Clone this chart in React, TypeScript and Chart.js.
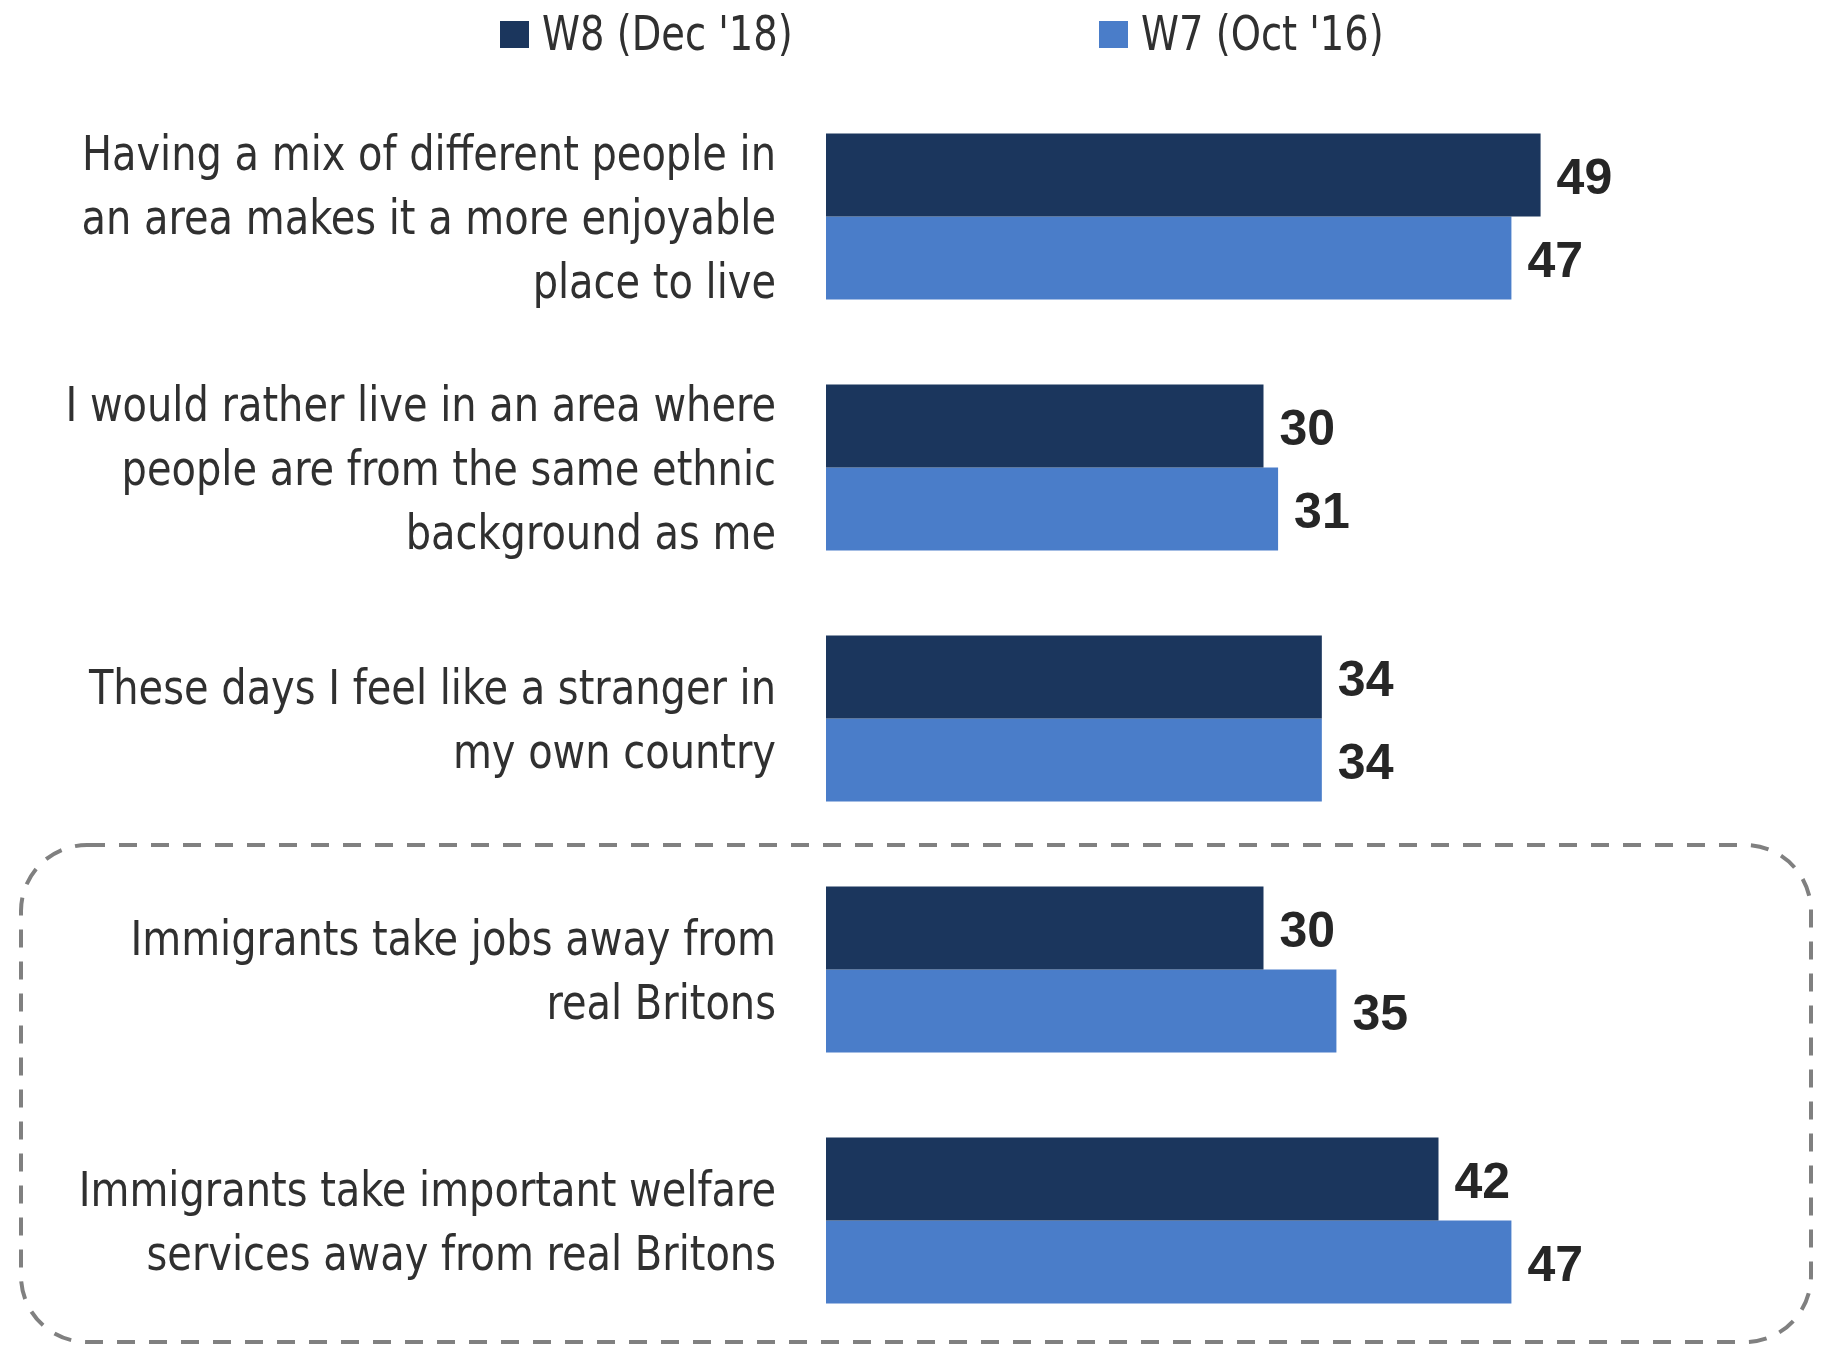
import React, { useEffect, useRef } from "react";
import { Chart, registerables } from "chart.js";

Chart.register(...registerables);

const categories: string[][] = [
  ["Having a mix of different people in", "an area makes it a more enjoyable", "place to live"],
  ["I would rather live in an area where", "people are from the same ethnic", "background as me"],
  ["These days I feel like a stranger in", "my own country"],
  ["Immigrants take jobs away from", "real Britons"],
  ["Immigrants take important welfare", "services away from real Britons"],
];
const w8Values = [49, 30, 34, 30, 42];
const w7Values = [47, 31, 34, 35, 47];
const seriesLabels = ["W8 (Dec '18)", "W7 (Oct '16)"];
const seriesColors = ["#1B365D", "#4A7DC9"];

const LABEL_FONT = "'DejaVu Sans Condensed', 'Liberation Sans', sans-serif";
const VALUE_FONT = "'Liberation Sans', Arial, sans-serif";
const LABEL_SCALE_X = 0.925;
const LEGEND_SCALE_X = 0.89;
const LABEL_LINE_HEIGHT = 64;
const LABEL_GAP = 50;

const categoryLabelPlugin = {
  id: "categoryLabels",
  afterDraw(chart: any) {
    const ctx = chart.ctx;
    const y = chart.scales.y;
    const xRight = y.right - LABEL_GAP;
    ctx.save();
    ctx.font = `48px ${LABEL_FONT}`;
    ctx.fillStyle = "#303030";
    ctx.textAlign = "right";
    ctx.textBaseline = "middle";
    categories.forEach((lines, i) => {
      const cy = y.getPixelForTick(i) + 5;
      const n = lines.length;
      lines.forEach((t, j) => {
        const ly = cy + (j - (n - 1) / 2) * LABEL_LINE_HEIGHT;
        ctx.save();
        ctx.translate(xRight, ly);
        ctx.scale(LABEL_SCALE_X, 1);
        ctx.fillText(t, 0, 0);
        ctx.restore();
      });
    });
    ctx.restore();
  },
};

const valueLabelPlugin = {
  id: "valueLabels",
  afterDatasetsDraw(chart: any) {
    const ctx = chart.ctx;
    ctx.save();
    ctx.font = `bold 50px ${VALUE_FONT}`;
    ctx.fillStyle = "#262626";
    ctx.textAlign = "left";
    ctx.textBaseline = "middle";
    chart.data.datasets.forEach((ds: any, di: number) => {
      const meta = chart.getDatasetMeta(di);
      meta.data.forEach((bar: any, i: number) => {
        ctx.fillText(String(ds.data[i]), bar.x + 16, bar.y + 5);
      });
    });
    ctx.restore();
  },
};

const legendPlugin = {
  id: "customLegend",
  afterDraw(chart: any) {
    const ctx = chart.ctx;
    ctx.save();
    const items = [
      { x: 500, text: seriesLabels[0], color: seriesColors[0] },
      { x: 1099, text: seriesLabels[1], color: seriesColors[1] },
    ];
    ctx.font = `48px ${LABEL_FONT}`;
    ctx.textAlign = "left";
    ctx.textBaseline = "middle";
    items.forEach((it) => {
      ctx.fillStyle = it.color;
      ctx.fillRect(it.x, 21, 29, 27);
      ctx.fillStyle = "#303030";
      ctx.save();
      ctx.translate(it.x + 42, 38);
      ctx.scale(LEGEND_SCALE_X, 1);
      ctx.fillText(it.text, 0, 0);
      ctx.restore();
    });
    ctx.restore();
  },
};

const boxPlugin = {
  id: "dashedBox",
  afterDraw(chart: any) {
    const ctx = chart.ctx;
    const y = chart.scales.y;
    const top = y.getPixelForValue(2.5) + 1;
    const bottom = chart.chartArea.bottom - 4;
    const left = 21;
    const right = chart.width - 12;
    const r = 66;
    ctx.save();
    ctx.strokeStyle = "#808080";
    ctx.lineWidth = 4;
    ctx.setLineDash([18, 14]);
    ctx.beginPath();
    ctx.moveTo(left + r, top);
    ctx.lineTo(right - r, top);
    ctx.arcTo(right, top, right, top + r, r);
    ctx.lineTo(right, bottom - r);
    ctx.arcTo(right, bottom, right - r, bottom, r);
    ctx.lineTo(left + r, bottom);
    ctx.arcTo(left, bottom, left, bottom - r, r);
    ctx.lineTo(left, top + r);
    ctx.arcTo(left, top, left + r, top, r);
    ctx.closePath();
    ctx.stroke();
    ctx.restore();
  },
};

export default function App() {
  const ref = useRef<HTMLCanvasElement | null>(null);
  useEffect(() => {
    if (!ref.current) return;
    const chart = new Chart(ref.current, {
      type: "bar",
      data: {
        labels: categories.map((c) => c.join(" ")),
        datasets: [
          { label: seriesLabels[0], data: w8Values, backgroundColor: seriesColors[0] },
          { label: seriesLabels[1], data: w7Values, backgroundColor: seriesColors[1] },
        ],
      },
      options: {
        indexAxis: "y",
        responsive: false,
        animation: false,
        devicePixelRatio: 1,
        layout: { padding: { top: 91, right: 122, bottom: 0, left: 0 } },
        datasets: { bar: { categoryPercentage: 0.662, barPercentage: 1 } },
        plugins: { legend: { display: false }, tooltip: { enabled: false } },
        scales: {
          x: { display: false, min: 0, max: 60 },
          y: {
            afterFit(scale: any) {
              scale.width = 826;
              scale.paddingTop = 0;
              scale.paddingBottom = 0;
            },
            grid: { display: false, drawTicks: false },
            border: { display: false },
            ticks: { display: false },
          },
        },
      } as any,
      plugins: [valueLabelPlugin, categoryLabelPlugin, legendPlugin, boxPlugin],
    });
    return () => chart.destroy();
  }, []);
  return (
    <div style={{ position: "absolute", left: 0, top: 0, width: 1823, height: 1346, background: "#fff" }}>
      <canvas ref={ref} width={1823} height={1346} />
    </div>
  );
}
